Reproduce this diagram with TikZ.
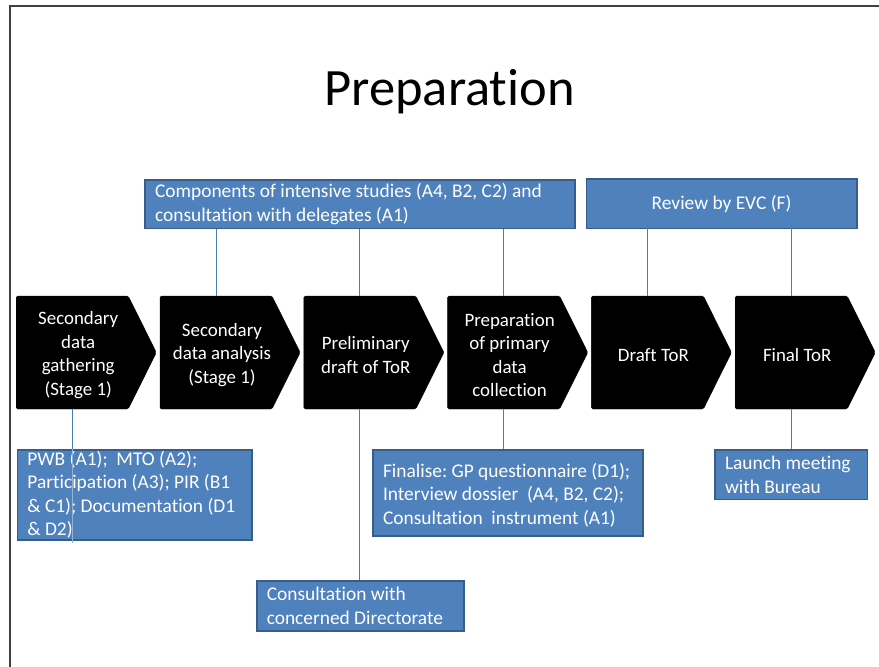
\documentclass[tikz,border=0pt]{standalone}
\usepackage{fontspec}
\setmainfont{Carlito}[Ligatures={TeX,NoCommon}]
\usepackage{xcolor}
\usepackage{tikz}
\usetikzlibrary{shapes.symbols,positioning}
\definecolor{boxblue}{HTML}{4F81BD}
\definecolor{boxedge}{HTML}{385D8A}
\definecolor{linkblue}{HTML}{4A7EBB}
\frenchspacing
\newcommand{\slidefont}{\fontsize{18.9}{23.5}\selectfont}
\newcommand{\notefont}{\fontsize{19.4}{23.5}\selectfont}
\newcommand{\chevtext}[1]{\hspace*{12pt}\parbox[c][113pt][c]{100pt}{\centering\vspace*{5pt}#1}}
\tikzset{
    frame line/.style={draw=black!75, line width=1.2pt},
    chevron/.style={signal, signal to=east, signal from=nowhere, signal pointer angle=127,
        fill=black, draw=black, line width=0.4pt, rounded corners=1.5pt,
        inner xsep=0pt, inner ysep=0pt, minimum height=113pt, text=white, font=\slidefont},
    note/.style={draw=boxedge, fill=boxblue, line width=1.5pt, text=white, font=\notefont,
        align=flush left, inner xsep=10pt, anchor=north west},
    link/.style={draw=linkblue, line width=0.8pt},
}

\begin{document}
\begin{tikzpicture}[x=1pt,y=-1pt]
    \useasboundingbox (0,0) rectangle (879,667);
    \draw[frame line] (10,667) -- (10,6) -- (879,6);

    \node[font=\fontsize{52.5}{60}\selectfont, anchor=base] (title) at (449.6,105.7) {Preparation};

    % process steps
    \foreach \i/\txt in {0/{Secondary\\data\\gathering\\(Stage 1)},
                        1/{Secondary\\data analysis\\(Stage 1)},
                        2/{Preliminary\\draft of ToR},
                        3/{Preparation\\of primary\\data\\collection},
                        4/{Draft ToR},
                        5/{Final ToR}}
        \node[chevron, anchor=west] (c\i) at (16+\i*143.8,352.5) {\chevtext{\txt}};

    % inputs above
    \node[note, text width=409.7pt, minimum height=48.4pt, inner ysep=3pt] (comp) at (144.3,179.3)
        {Components of intensive studies (A4, B2, C2) and\\consultation with delegates (A1)};
    \node[note, align=flush center, text width=250.3pt, minimum height=49.4pt] (review) at (585.7,178.3)
        {Review by EVC (F)};

    % outputs below
    \node[note, text width=214.3pt, minimum height=90.3pt, inner ysep=0.5pt] (pwb) at (16.7,449)
        {PWB (A1);\ \ MTO (A2);\\Participation (A3); PIR (B1\\\& C1); Documentation (D1\\\& D2)};
    \node[note, text width=187.3pt, minimum height=50pt, inner ysep=4pt] (consult) at (256,580)
        {Consultation with\\concerned Directorate};
    \node[note, text width=250pt, minimum height=86pt, inner ysep=4pt] (final) at (372.3,449)
        {\rule{0pt}{19pt}Finalise: GP questionnaire (D1);\\Interview dossier\ \ (A4, B2, C2);\\Consultation\ \ instrument (A1)};
    \node[note, text width=132.4pt, minimum height=49.7pt, inner ysep=4pt] (launch) at (714.3,449)
        {Launch meeting\\with Bureau};

    \foreach \c in {c1,c2,c3}
        \draw[link] (comp.south -| \c.north) -- (\c.north);
    \foreach \c in {c4,c5}
        \draw[link] ([yshift=7pt]review.south -| \c.north) -- (\c.north);
    \draw[link] (c0.south) -- (c0.south |- pwb.north);
    \draw[link, draw=boxblue!60!white] (c0.south |- pwb.north) -- ([yshift=-2pt]c0.south |- pwb.south);
    \draw[link] (c2.south) -- (c2.south |- consult.north);
    \draw[link] (c3.south) -- (c3.south |- final.north);
    \draw[link] (c5.south) -- (c5.south |- launch.north);
\end{tikzpicture}
\end{document}
